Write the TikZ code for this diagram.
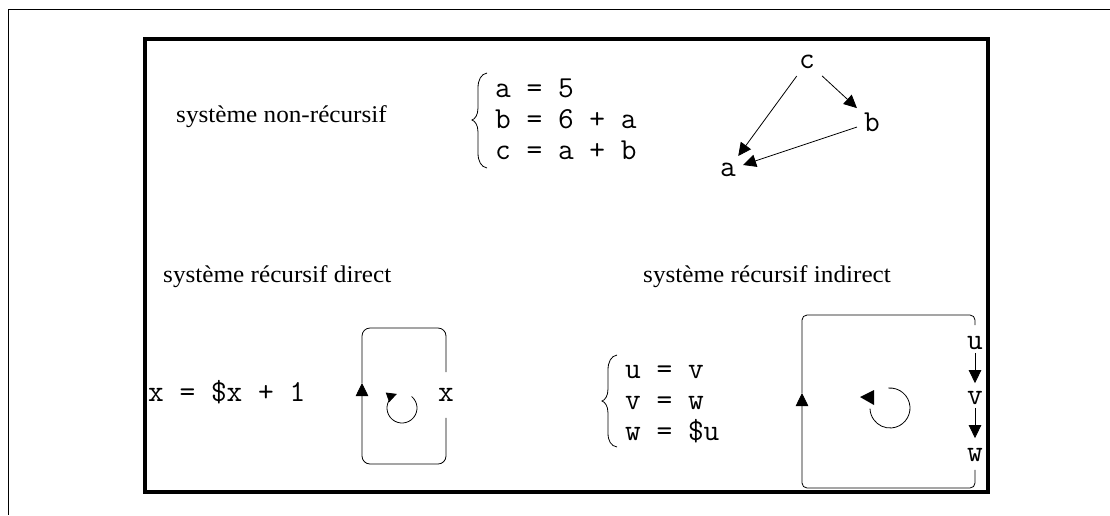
\documentclass[tikz,border=0pt]{standalone}
\usepackage{fontspec}
\setmainfont{Liberation Serif}[FakeStretch=1.05]
\usetikzlibrary{arrows.meta}
\begin{document}
\begin{tikzpicture}[x=1pt,y=-1pt,
  lbl/.style={font=\fontsize{24}{28}\selectfont, anchor=base west, inner sep=0pt},
  codeline/.style={font=\ttfamily\fontsize{30.5}{34}\selectfont, anchor=base west, inner sep=0pt},
  var/.style={font=\ttfamily\fontsize{30.5}{34}\selectfont, inner sep=7pt},
  arr/.style={-{Triangle[length=13pt,width=12.5pt]}, line width=0.8pt},
  smallarr/.style={-{Triangle[length=10pt,width=10pt]}, line width=0.8pt},
  thinline/.style={line width=0.8pt}]
\useasboundingbox (0,0) rectangle (1110,515);
% frames
\draw[line width=1pt] (1110,9) -- (8,9) -- (8,515);
\draw[line width=4pt] (145,39) rectangle (988,492);
% titles
\node[lbl] (t1) at (176,122) {système non-récursif};
\node[lbl] (t2) at (163,282) {système récursif direct};
\node[lbl] (t3) at (643,282) {système récursif indirect};
% non-recursive system
\node[codeline] (e1) at (495,97) {a = 5};
\node[codeline] (e2) at (495,128) {b = 6 + a};
\node[codeline] (e3) at (495,159) {c = a + b};
\draw[thinline] (487,73) .. controls (481,74) and (478,80) .. (478,88) -- (478,108)
  .. controls (478,115) and (475,119) .. (472,120)
  .. controls (475,121) and (478,125) .. (478,132) -- (478,153)
  .. controls (478,161) and (481,167) .. (487,168);
\node[var] (c) at (807,62) {c};
\node[var] (b) at (872,122) {b};
\node[var] (a) at (728,170) {a};
\draw[arr] (c) -- (a);
\draw[arr] (c) -- (b);
\draw[arr] (b) -- (a);
% direct recursion
\node[codeline] (ex) at (148,401) {x = \$x + 1};
\node[var, inner xsep=0pt, inner ysep=16pt] (x) at (446,395) {x};
\coordinate (dbl) at (362,464);
\coordinate (dtl) at (362,328);
\coordinate (dmid) at (362,383);
\draw[arr, rounded corners=8pt] (x.south) |- (dbl) -- (dmid);
\draw[thinline, rounded corners=8pt] (dmid) -- (dtl) -| (x.north);
\coordinate (dc) at (402,408);
\draw[smallarr] ([shift={(50:15pt)}]dc) arc[start angle=50, end angle=-250, radius=15pt];
% indirect recursion
\node[codeline] (eu) at (625,378) {u = v};
\node[codeline] (ev) at (625,409) {v = w};
\node[codeline] (ew) at (625,440) {w = \$u};
\draw[thinline] (617,355) .. controls (611,356) and (608,362) .. (608,370) -- (608,389)
  .. controls (608,396) and (605,400) .. (602,401)
  .. controls (605,402) and (608,406) .. (608,413) -- (608,433)
  .. controls (608,441) and (611,446) .. (617,447);
\node[var, inner xsep=0pt, inner ysep=3pt] (u) at (975,343) {u};
\node[var, inner xsep=0pt, inner ysep=3pt] (v) at (975,398) {v};
\node[var, inner xsep=0pt, inner ysep=3pt] (w) at (975,455) {w};
\draw[arr, shorten >=5pt] (u) -- (v);
\draw[arr, shorten >=7pt] (v) -- (w);
\coordinate (ibl) at (802,488);
\coordinate (itl) at (802,315);
\coordinate (imid) at (802,393);
\draw[arr, rounded corners=5pt, shorten <=5pt] (w.south) |- (ibl) -- (imid);
\draw[thinline, rounded corners=5pt, shorten >=8pt] (imid) -- (itl) -| (u.north);
\coordinate (ic) at (890,408);
\draw[thinline] ([shift={(95:20pt)}]ic) arc[start angle=95, end angle=-178, radius=20pt];
\fill (860,397) -- (874,390) -- (874,405) -- cycle;
\end{tikzpicture}
\end{document}
